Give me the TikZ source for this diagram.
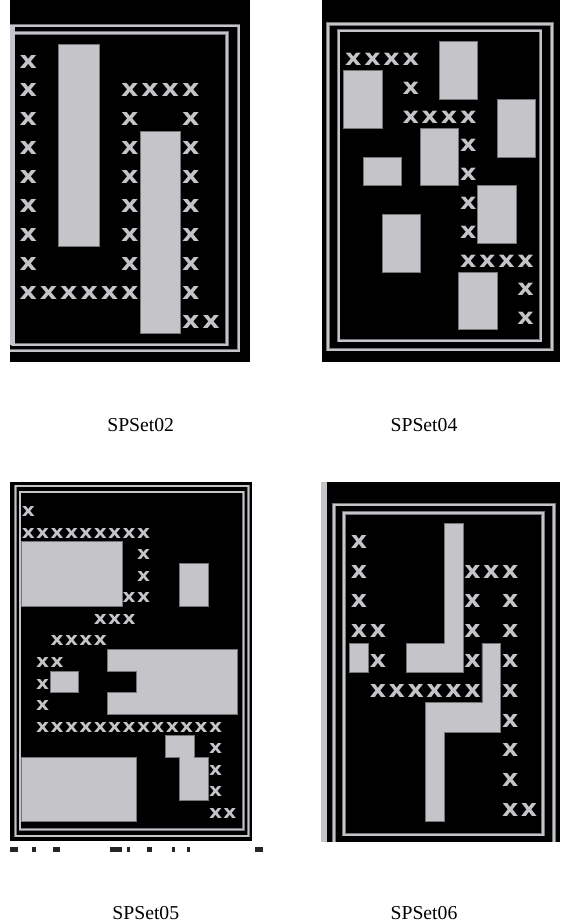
\documentclass[tikz,border=0pt]{standalone}
\usepackage{graphicx}
\usepackage{fontspec}
\setmainfont{Liberation Serif}
\newfontfamily\xfont{DejaVu Sans}
\definecolor{lg}{RGB}{197,196,200}
\definecolor{edge}{RGB}{118,118,122}
\newcommand\xglyph[1]{\scalebox{#1}[1]{x}}
\begin{document}
\begin{tikzpicture}[x=1pt,y=-1pt,
  bgpanel/.style={fill=black},
  frm/.style={draw=edge, double=lg, double distance=2pt, line width=0.7pt},
  frmthin/.style={draw=edge, double=lg, double distance=1.5pt, line width=0.5pt},
  stripbar/.style={fill=lg},
  blk/.style={fill=lg, draw=edge, line width=0.7pt},
  xg/.style={text=lg, inner sep=0pt},
  xa/.style={xg, font={\xfont\bfseries\fontsize{23.8}{24}\selectfont}},
  xb/.style={xg, font={\xfont\bfseries\fontsize{22.5}{23}\selectfont}},
  xc/.style={xg, font={\xfont\bfseries\fontsize{18.3}{19}\selectfont}},
  xd/.style={xg, font={\xfont\bfseries\fontsize{23.8}{24}\selectfont}},
  captext/.style={font=\fontsize{19.7}{22}\selectfont, inner sep=0pt, anchor=base},
  markbar/.style={fill=black!85}]
\useasboundingbox (0,0) rectangle (560,924);
\fill[white] (0,0) rectangle (560,924);

% ---------------- Panel 1 : SPSet02 ----------------
\fill[bgpanel] (10,0) rectangle (250,362);
\draw[frm] (10,25.5) -- (238.5,25.5) -- (238.5,350.5) -- (10,350.5);
\draw[frm] (12.5,33) rectangle (227,344.5);
\fill[stripbar] (10,27) rectangle (14.5,345);
\foreach \c/\r in {0/0,0/1,0/2,0/3,0/4,0/5,0/6,0/7,0/8,
                   1/8,2/8,3/8,4/8,5/8,
                   5/1,6/1,7/1,8/1,
                   5/2,5/3,5/4,5/5,5/6,5/7,
                   8/2,8/3,8/4,8/5,8/6,8/7,8/8,
                   8/9,9/9}
  \node[xa] (pa-\c-\r) at ({28.3+20.3*\c},{61.5+28.9*\r}) {\xglyph{1.13}};
\draw[blk] ({18.15+20.3*2},{44.3+28.9*0}) rectangle ({18.15+20.3*4},{44.3+28.9*7});
\draw[blk] ({18.15+20.3*6},{44.3+28.9*3}) rectangle ({18.15+20.3*8},{44.3+28.9*10});
\node[captext] (capa) at (140.7,431) {SPSet02};

% ---------------- Panel 2 : SPSet04 ----------------
\fill[bgpanel] (321.7,0) rectangle (560,362);
\draw[frm] (328,24) rectangle (552,349.5);
\draw[frm] (338.5,30.7) rectangle (540.5,340.5);
\foreach \c/\r in {0/0,1/0,2/0,3/0,
                   3/1,
                   3/2,4/2,5/2,6/2,
                   6/3,6/4,6/5,6/6,
                   6/7,7/7,8/7,9/7,
                   9/8,9/9}
  \node[xb] (pb-\c-\r) at ({353.3+19.15*\c},{59.3+28.8*\r}) {\xglyph{1.13}};
\foreach \ca/\ra/\cb/\rb in {5/0/7/2, 0/1/2/3, 8/2/10/4, 4/3/6/5,
                             1/4/3/5, 7/5/9/7, 2/6/4/8, 6/8/8/10}
  \draw[blk] ({343.7+19.15*\ca},{41.7+28.8*\ra}) rectangle ({343.7+19.15*\cb},{41.7+28.8*\rb});
\node[captext] (capb) at (424,431) {SPSet04};

% ---------------- Panel 3 : SPSet05 ----------------
\fill[bgpanel] (10,481.7) rectangle (252,840.5);
\draw[frmthin] (15.3,486) rectangle (248.3,836);
\draw[frmthin] (19.8,492) rectangle (243.3,829.5);
\foreach \c/\r in {0/0,
                   0/1,1/1,2/1,3/1,4/1,5/1,6/1,7/1,8/1,
                   8/2,8/3,7/4,8/4,
                   5/5,6/5,7/5,
                   2/6,3/6,4/6,5/6,
                   1/7,2/7,1/8,1/9,
                   1/10,2/10,3/10,4/10,5/10,6/10,7/10,8/10,9/10,10/10,11/10,12/10,13/10,
                   13/11,13/12,13/13,13/14,14/14}
  \node[xc] (pc-\c-\r) at ({28.3+14.4*\c},{511.7+21.54*\r}) {\xglyph{1.1}};
\draw[blk] ({21.1+14.4*0},{498.7+21.54*2}) rectangle ({21.1+14.4*7},{498.7+21.54*5});
\draw[blk] ({21.1+14.4*11},{498.7+21.54*3}) rectangle ({21.1+14.4*13},{498.7+21.54*5});
\draw[blk] ({21.1+14.4*2},{498.7+21.54*8}) rectangle ({21.1+14.4*4},{498.7+21.54*9});
\draw[blk] (107.5,649.5) -- (237.1,649.5) -- (237.1,714.1) -- (107.5,714.1)
  -- (107.5,692.6) -- (136.3,692.6) -- (136.3,671.0) -- (107.5,671.0) -- cycle;
\draw[blk] (165.1,735.6) -- (193.9,735.6) -- (193.9,757.2) -- (208.3,757.2)
  -- (208.3,800.3) -- (179.5,800.3) -- (179.5,757.2) -- (165.1,757.2) -- cycle;
\draw[blk] ({21.1+14.4*0},{498.7+21.54*12}) rectangle ({21.1+14.4*8},{498.7+21.54*15});
\foreach \a/\b in {10/18,32/36,53/60,110/122,127/130,147/152,172/175,187/190,255/263}
  \fill[markbar] (\a,847) rectangle (\b,851.5);
\node[captext] (capc) at (145.8,919.5) {SPSet05};

% ---------------- Panel 4 : SPSet06 ----------------
\fill[bgpanel] (321,481.7) rectangle (560,841.7);
\fill[stripbar] (321,481.7) rectangle (327,841.7);
\draw[frm] (334,841.7) -- (334,504.7) -- (554,504.7) -- (554,841.7);
\draw[frm] (344,513) rectangle (543,834.5);
\foreach \c/\r in {0/0,
                   0/1,6/1,7/1,8/1,
                   0/2,6/2,8/2,
                   0/3,1/3,6/3,8/3,
                   1/4,6/4,8/4,
                   1/5,2/5,3/5,4/5,5/5,6/5,8/5,
                   8/6,8/7,8/8,8/9,9/9}
  \node[xd] (pd-\c-\r) at ({359+18.9*\c},{541.7+29.8*\r}) {\xglyph{1.06}};
\draw[blk] (349.55,643.0) rectangle (368.45,672.8);
\draw[blk] (444.05,523.8) -- (462.95,523.8) -- (462.95,672.8) -- (406.25,672.8)
  -- (406.25,643.0) -- (444.05,643.0) -- cycle;
\draw[blk] (481.85,643.0) -- (500.75,643.0) -- (500.75,732.4) -- (444.05,732.4)
  -- (444.05,821.8) -- (425.15,821.8) -- (425.15,702.6) -- (481.85,702.6) -- cycle;
\node[captext] (capd) at (424,919.5) {SPSet06};
\end{tikzpicture}
\end{document}
